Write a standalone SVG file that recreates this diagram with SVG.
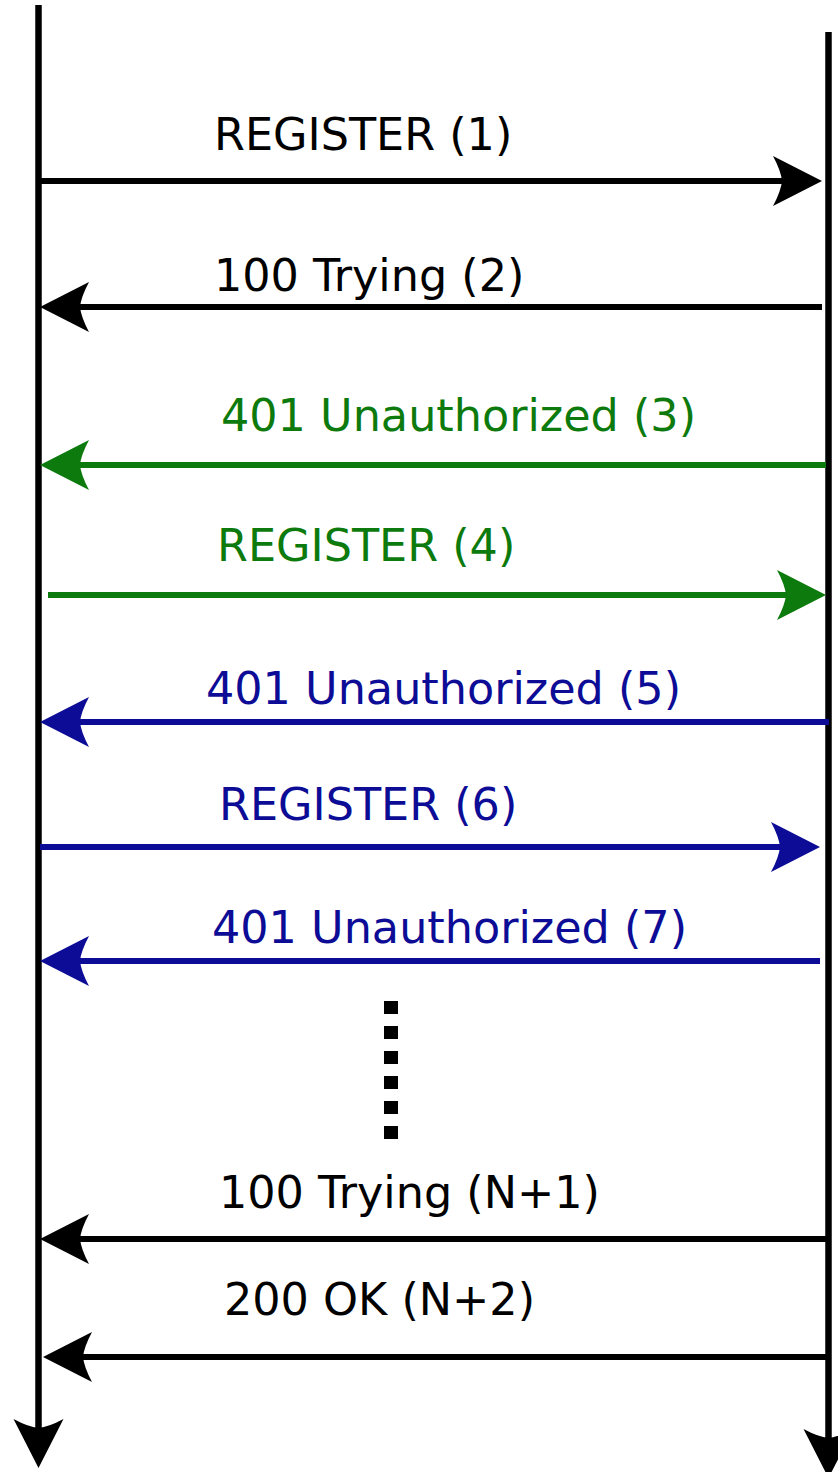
<svg xmlns="http://www.w3.org/2000/svg" width="838" height="1472" viewBox="0 0 838 1472">
<style>
text{font-family:"DejaVu Sans","Liberation Sans",sans-serif;font-size:44.5px}
.k{fill:#000}.g{fill:#0d7a0d}.b{fill:#0c0c96}
.lk{stroke:#000;stroke-width:6;fill:none}
.lg{stroke:#0d7a0d;stroke-width:6;fill:none}
.lb{stroke:#0c0c96;stroke-width:6;fill:none}
.life{stroke:#000;stroke-width:6.5;fill:none}
</style>
<defs>
<marker id="ak" viewBox="-12 -27 56 54" refX="0" refY="0" markerWidth="56" markerHeight="54" markerUnits="userSpaceOnUse" orient="auto" overflow="visible"><path d="M40,0 L-9,-25 Q-1,-10 0,0 Q-1,10 -9,25 Z" fill="#000"/></marker>
<marker id="ag" viewBox="-12 -27 56 54" refX="0" refY="0" markerWidth="56" markerHeight="54" markerUnits="userSpaceOnUse" orient="auto" overflow="visible"><path d="M40,0 L-9,-25 Q-1,-10 0,0 Q-1,10 -9,25 Z" fill="#0d7a0d"/></marker>
<marker id="ab" viewBox="-12 -27 56 54" refX="0" refY="0" markerWidth="56" markerHeight="54" markerUnits="userSpaceOnUse" orient="auto" overflow="visible"><path d="M40,0 L-9,-25 Q-1,-10 0,0 Q-1,10 -9,25 Z" fill="#0c0c96"/></marker>
</defs>
<g id="lifeline-left"><line class="life" x1="38.5" y1="5" x2="38.5" y2="1428" marker-end="url(#ak)"/></g>
<g id="lifeline-right"><line class="life" x1="828.5" y1="32" x2="828.5" y2="1438" marker-end="url(#ak)"/></g>
<g id="connectors">
<line class="lk" x1="38" y1="181" x2="782" y2="181" marker-end="url(#ak)"/>
<line class="lk" x1="822" y1="307" x2="80" y2="307" marker-end="url(#ak)"/>
<line class="lg" x1="826" y1="465" x2="80" y2="465" marker-end="url(#ag)"/>
<line class="lg" x1="48" y1="595" x2="786" y2="595" marker-end="url(#ag)"/>
<line class="lb" x1="829" y1="722" x2="80" y2="722" marker-end="url(#ab)"/>
<line class="lb" x1="40" y1="847" x2="780" y2="847" marker-end="url(#ab)"/>
<line class="lb" x1="820" y1="961" x2="80" y2="961" marker-end="url(#ab)"/>
<line class="lk" x1="829" y1="1239" x2="80" y2="1239" marker-end="url(#ak)"/>
<line class="lk" x1="829" y1="1357" x2="83" y2="1357" marker-end="url(#ak)"/>
</g>
<g id="labels">
<text class="k" x="214" y="150">REGISTER (1)</text>
<text class="k" x="214" y="291">100 Trying (2)</text>
<text class="g" x="221" y="431">401 Unauthorized (3)</text>
<text class="g" x="217" y="561">REGISTER (4)</text>
<text class="b" x="206" y="704">401 Unauthorized (5)</text>
<text class="b" x="219" y="820">REGISTER (6)</text>
<text class="b" x="212" y="943">401 Unauthorized (7)</text>
<text class="k" x="219" y="1208">100 Trying (N+1)</text>
<text class="k" x="224" y="1315">200 OK (N+2)</text>
</g>
<g id="ellipsis" fill="#000">
<rect x="384" y="1001" width="14" height="13"/>
<rect x="384" y="1026" width="14" height="13"/>
<rect x="384" y="1051" width="14" height="13"/>
<rect x="384" y="1076" width="14" height="13"/>
<rect x="384" y="1101" width="14" height="13"/>
<rect x="384" y="1126" width="14" height="13"/>
</g>
</svg>
